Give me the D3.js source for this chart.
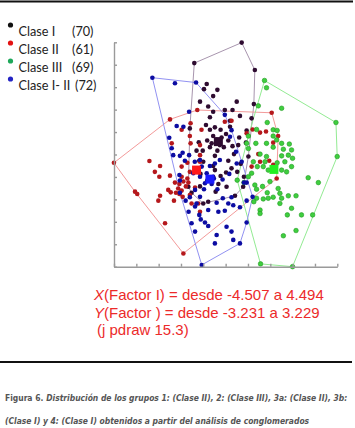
<!DOCTYPE html>
<html>
<head>
<meta charset="utf-8">
<script src="https://cdn.jsdelivr.net/npm/d3@7"></script>
<style>
  html, body { margin: 0; padding: 0; background: #fff; }
  svg { display: block; }
</style>
</head>
<body>
<svg id="chart"></svg>
<script>
// Factor ranges (from the note under the plot)
const xRange = [-4.507, 4.494]
const yRange = [-3.231, 3.229]

// Clase I (70) - dark purple
const claseI = [
  [0.64, 3.22], [-1.27, 2.63], [1.17, 2.43], [-0.77, 2.03], [-0.88, 1.88], [-0.34, 1.86], [-0.51, 1.68], [-1.04, 1.52], [0.44, 1.52], [1.13, 1.45],
  [-0.04, 1.28], [0.27, 1.28], [-0.51, 1.23], [-0.64, 1.07], [0.17, 0.97], [0.57, 1.11], [-0.64, 0.71], [-0.44, 0.78], [-0.21, 0.71], [0.01, 0.59],
  [-0.51, 0.53], [-0.75, 0.40], [0.10, 0.40], [0.27, 0.24], [-0.64, 0.21], [-0.34, 0.11], [-0.08, 0.21], [-0.44, -0.04], [0.54, 0.49], [0.84, 0.69],
  [0.81, 0.34], [0.33, 0.01], [0.10, -0.18], [-0.93, 0.11], [-1.07, -0.18], [-1.18, 0.11], [-0.44, -0.45], [-0.21, -0.62], [-0.51, -0.64], [-0.30, -0.85],
  [-0.75, -0.75], [-1.02, -0.56], [0.01, -0.52], [0.46, -0.50], [0.73, -0.64], [0.60, -0.27], [0.03, -0.93], [0.37, -1.19], [-0.91, -1.41], [-0.71, -1.36],
  [-1.38, -1.10], [-0.71, 1.38], [-1.45, 0.75], [-1.09, 0.35], [-0.17, 0.49], [-0.37, 0.42], [-0.24, 0.27], [-0.57, 0.32], [0.50, 0.27], [1.04, 1.04],
  [-1.51, -0.93], [-0.51, -0.33], [0.23, -0.40], [-0.41, -1.07], [0.70, -0.93], [0.91, -0.06], [-0.80, 0.85], [0.17, 0.80], [-0.91, -0.21], [-1.04, -0.92]
]

// Clase II (61) - red
const claseII = [
  [-4.51, -0.24], [-3.08, -0.19], [-2.65, -0.33], [-2.68, -0.64], [-2.25, -0.61], [-3.66, -1.07], [-3.57, -1.14], [-2.65, -1.19], [-2.72, -1.33], [-2.22, -1.09],
  [-2.45, -1.98], [-1.71, -2.85], [-2.25, 1.01], [-1.15, 1.28], [-1.78, 0.71], [-2.18, 0.32], [-1.45, 0.53], [-1.42, 0.32], [0.23, 0.97], [1.85, 1.20],
  [1.62, 0.66], [1.38, 0.63], [2.11, 0.53], [1.91, 0.34], [1.08, 0.72], [1.31, 0.01], [2.05, -0.69], [1.75, -0.18], [-1.78, -0.35], [-1.55, -0.24],
  [-1.45, -0.50], [-1.92, -0.98], [-1.78, -1.04], [-1.61, -0.92], [-1.51, -0.81], [-1.87, -1.14], [-1.45, -1.17], [-1.24, -0.95], [-1.04, -1.65], [-1.04, -0.02],
  [-0.98, 0.71], [-2.05, -0.81], [-1.71, -0.78], [-2.32, -1.02], [-2.09, -1.33], [-1.38, -1.41], [-2.86, -0.50], [-2.01, -1.10], [-1.11, -1.41], [-1.42, 0.90],
  [0.84, 0.61], [1.04, -0.35], [1.38, -0.21], [-0.04, 0.94], [-1.04, 0.27], [-1.78, -0.64], [-1.55, -0.69], [-1.74, -1.22], [-1.87, -0.85], [1.91, -0.30],
  [-1.04, -0.21]
]

// Clase III (69) - green
const claseIII = [
  [1.56, 2.13], [1.64, 1.92], [2.25, 1.33], [4.44, 0.92], [4.49, -0.06], [1.24, 0.72], [0.91, 0.53], [0.84, 0.32], [1.21, 0.32], [1.91, 0.71],
  [2.07, 0.69], [1.64, 0.32], [1.91, 0.21], [2.25, 0.32], [2.56, 0.30], [2.65, 0.13], [2.32, 0.15], [2.52, -0.02], [2.69, -0.11], [2.25, -0.04],
  [2.38, -0.21], [2.25, -0.45], [2.45, -0.50], [1.64, -0.06], [1.38, 0.01], [1.11, -0.21], [1.27, -0.35], [1.04, -0.54], [1.51, -0.35], [1.71, -0.45],
  [1.58, -0.21], [2.07, -0.24], [3.32, -0.67], [3.73, -0.81], [0.46, -0.74], [0.73, -0.81], [1.17, -0.88], [1.24, -1.00], [1.48, -0.92], [1.67, -1.10],
  [2.11, -0.98], [2.18, -1.12], [1.91, -1.23], [2.25, -1.26], [2.52, -1.19], [2.83, -1.19], [1.24, -1.26], [1.51, -1.28], [1.71, -1.26], [1.38, -1.60],
  [1.38, -1.70], [2.48, -1.74], [3.05, -1.74], [3.50, -1.74], [2.83, -2.19], [2.32, -2.34], [1.40, -3.15], [2.69, -3.23], [0.91, 0.17], [1.78, -0.78],
  [2.65, -0.35], [1.67, 0.92], [1.91, 0.53], [2.05, 0.42], [0.91, -0.64], [2.18, -1.41], [2.65, -1.55], [1.13, -1.36], [1.31, 1.40]
]

// Clase I- II (72) - blue
const claseI_II = [
  [-2.96, 2.21], [-2.05, 2.05], [-1.20, 2.07], [-1.48, 1.23], [-1.98, 0.82], [-1.71, 0.80], [-2.28, 0.48], [-2.12, -0.02], [-1.85, -0.04], [-1.74, 0.05],
  [-1.48, -0.02], [-1.87, -0.59], [-1.85, -0.75], [-1.25, -0.21], [-1.04, -0.16], [-0.97, -0.35], [-0.77, -0.54], [-0.84, -0.83], [-0.57, -0.85], [-0.34, -1.00],
  [-0.13, -0.72], [0.14, -0.56], [-1.04, -0.64], [-1.45, -1.23], [-1.62, -1.33], [-1.24, -1.50], [-1.07, -1.74], [-1.18, -1.41], [-0.71, -1.60], [-0.30, -1.65],
  [-0.04, -1.62], [0.30, -1.46], [0.23, -1.23], [0.57, -1.52], [0.84, -1.33], [-1.01, -1.87], [-0.84, -1.96], [-0.71, -2.06], [-1.24, -2.22], [-0.37, -2.32],
  [0.23, -2.22], [0.30, -2.46], [-0.44, -2.56], [0.84, -1.96], [-0.97, -3.18], [-0.04, 1.14], [0.17, 0.51], [0.44, -0.26], [0.73, -0.81], [0.84, -0.81],
  [1.08, -1.22], [-0.44, -0.26], [-0.24, -0.16], [-1.85, -1.10], [-1.65, -0.18], [-1.31, -0.54], [-0.64, -0.33], [-0.48, -0.69], [-0.88, -1.00], [-0.12, -1.26],
  [-0.37, -1.39], [0.10, -1.41], [0.57, -2.56], [0.03, -2.08], [-1.50, -1.65], [-1.38, -1.98], [-1.24, -1.02], [0.64, -0.21], [0.41, 0.08], [0.23, 0.70],
  [-1.04, -1.22], [-2.18, 0.18]
]

// group centres
const centroids = [[-0.30, 0.37], [-1.18, -0.45], [1.94, -0.43], [-0.64, -0.71]]

const legendNames = ['Clase I', 'Clase II', 'Clase III', 'Clase I- II']
const legendCounts = ['(70)', '(61)', '(69)', '(72)']

const noteVars = ['X', 'Y', '']
const noteTexts = ['(Factor I) = desde -4.507 a 4.494', '(Factor ) = desde -3.231 a 3.229', '(j pdraw 15.3)']

const captionLead = 'Figura 6.'
const captionLines = [
  'Distribución de los grupos 1: (Clase II), 2: (Clase III), 3a: (Clase II), 3b:',
  '(Clase I) y 4: (Clase I) obtenidos a partir del análisis de conglomerados'
]

const groups = [
  { data: claseI, dot: '#2e0b30', stroke: 'none', hull: '#a895ae', centre: '#2e0b30' },
  { data: claseII, dot: '#b5181c', stroke: 'none', hull: '#f39a9a', centre: '#ff1a1a' },
  { data: claseIII, dot: '#3fce3f', stroke: '#1f9a1f', hull: '#93eb93', centre: '#22ee22' },
  { data: claseI_II, dot: '#0c0ca2', stroke: 'none', hull: '#9292f2', centre: '#1a1aff' }
]
const legendColors = ['#111111', '#e31212', '#1ea85a', '#2424c4']

const W = 355, H = 428

const svg = d3.select('#chart').attr('width', W).attr('height', H)

// rules
svg.append('line').attr('x1', 0).attr('x2', 353).attr('y1', 1.5).attr('y2', 1.5)
  .attr('stroke', '#111').attr('stroke-width', 2)
svg.append('line').attr('x1', 0).attr('x2', 352).attr('y1', 362).attr('y2', 362)
  .attr('stroke', '#111').attr('stroke-width', 2)

// scales
const x = d3.scaleLinear().domain(xRange).range([114, 337.3])
const y = d3.scaleLinear().domain(yRange).range([266.7, 42.3])
const xTicks = d3.range(11).map(i => xRange[0] + i * (xRange[1] - xRange[0]) / 10)
const yTicks = d3.range(11).map(i => yRange[0] + i * (yRange[1] - yRange[0]) / 10)

const plot = svg.append('g')

// hulls
groups.forEach(g => {
  const hull = d3.polygonHull(g.data.map(d => [x(d[0]), y(d[1])]))
  plot.append('path')
    .attr('d', 'M' + hull.join('L') + 'Z')
    .attr('fill', 'none')
    .attr('stroke', g.hull)
    .attr('stroke-width', 1)
})

// points
groups.forEach(g => {
  plot.append('g').selectAll('circle')
    .data(g.data)
    .join('circle')
      .attr('cx', d => x(d[0]))
      .attr('cy', d => y(d[1]))
      .attr('r', 2.3)
      .attr('fill', g.dot)
      .attr('stroke', g.stroke)
      .attr('stroke-width', 0.6)
})

// centres
plot.append('g').selectAll('rect')
  .data(centroids)
  .join('rect')
    .attr('x', d => x(d[0]) - 4.5)
    .attr('y', d => y(d[1]) - 4.5)
    .attr('width', 9)
    .attr('height', 9)
    .attr('fill', (d, i) => groups[i].centre)

// axes
const axisL = svg.append('g').attr('transform', 'translate(114,0)')
  .call(d3.axisLeft(y).tickValues(yTicks).tickSize(-3).tickSizeOuter(0).tickFormat(''))
const axisB = svg.append('g').attr('transform', 'translate(0,266.7)')
  .call(d3.axisBottom(x).tickValues(xTicks).tickSize(-3).tickSizeOuter(0).tickFormat(''))
;[axisL, axisB].forEach(a => {
  a.selectAll('path, line').attr('stroke', '#9a9a9a').attr('stroke-width', 1.4)
})

// legend: one text per row, count placed in its own column
const legend = svg.append('g')
legendNames.forEach((name, i) => {
  const yy = 36 + i * 18
  legend.append('circle').attr('cx', 10.5).attr('cy', yy - 11).attr('r', 2.6)
    .attr('fill', legendColors[i])
  const row = legend.append('text').attr('y', yy)
    .attr('font-family', 'Lato, "Open Sans", sans-serif').attr('font-size', 12.7)
    .attr('fill', '#222')
  row.append('tspan').attr('x', 18.5).text(name)
  row.append('tspan').attr('x', i === 3 ? 75 : 72).text(legendCounts[i])
})

// factor note
noteTexts.forEach((t, i) => {
  const tx = svg.append('text').attr('x', i === 2 ? 97 : 94).attr('y', 300 + i * 17.5)
    .attr('font-family', '"Liberation Sans", Arial, sans-serif').attr('font-size', 15)
    .attr('fill', '#ec2a2a')
  if (noteVars[i]) tx.append('tspan').attr('font-style', 'italic').text(noteVars[i])
  tx.append('tspan').text(t)
})

// caption: size the narrow face so the first line spans the column
const capFont = '"Liberation Sans Narrow", "DejaVu Sans Condensed", sans-serif'
const capGap = 3
const capLead = svg.append('text').attr('x', 5).attr('y', 401)
  .attr('font-family', capFont).attr('font-size', 10)
  .attr('font-weight', 'bold').attr('fill', '#555').text(captionLead)
const capRest = svg.append('text').attr('y', 401)
  .attr('font-family', capFont).attr('font-size', 10)
  .attr('font-weight', 'bold').attr('font-style', 'italic').attr('fill', '#555').text(captionLines[0])
const natural = capLead.node().getComputedTextLength() + capRest.node().getComputedTextLength()
const capSize = Math.min(12, 10 * (343 - capGap) / natural)
capLead.attr('font-size', capSize)
capRest.attr('font-size', capSize).attr('x', 5 + capLead.node().getComputedTextLength() + capGap)

svg.append('text').attr('x', 5).attr('y', 424)
  .attr('font-family', capFont).attr('font-size', capSize)
  .attr('font-weight', 'bold').attr('font-style', 'italic').attr('fill', '#555')
  .text(captionLines[1])
</script>
</body>
</html>
